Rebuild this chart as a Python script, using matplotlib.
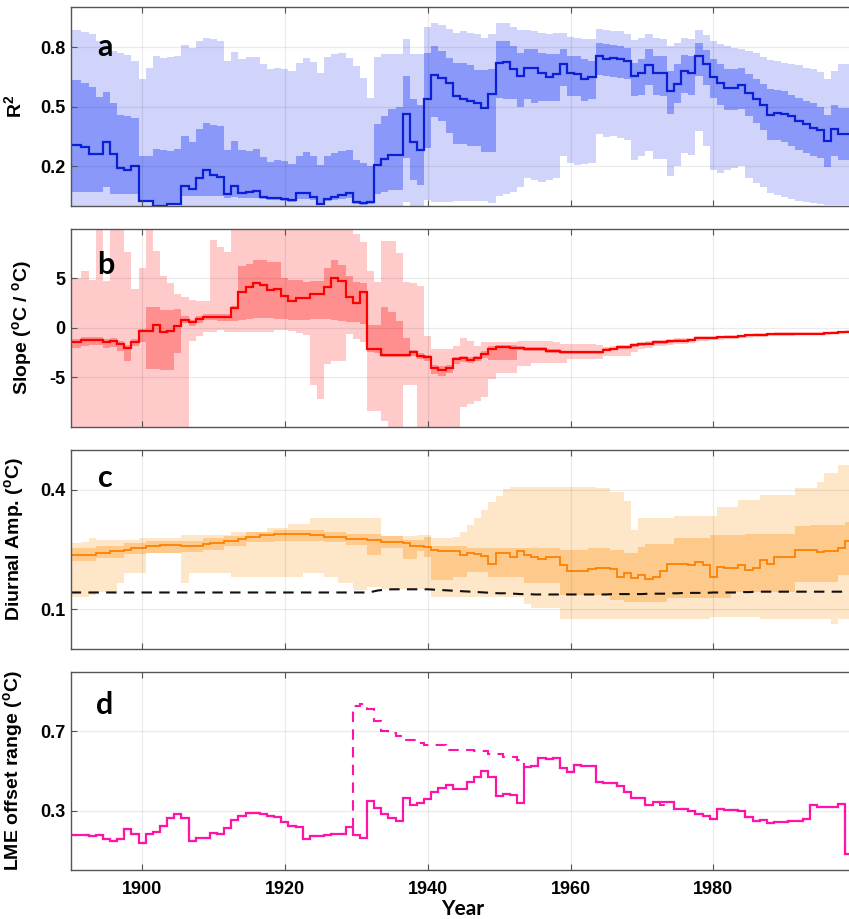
import numpy as np
import matplotlib
matplotlib.use('Agg')
import matplotlib.pyplot as plt

years = np.arange(1890, 2000)

# ---------------- panel a : R^2 ----------------
a_med = [0.308, 0.308, 0.295, 0.26, 0.26, 0.32, 0.26, 0.19, 0.18, 0.20,
         0.027, 0.027, 0.0, 0.0, 0.01, 0.01, 0.10, 0.085, 0.14, 0.18,
         0.157, 0.145, 0.06, 0.10, 0.064, 0.07, 0.074, 0.047, 0.042, 0.042,
         0.035, 0.03, 0.064, 0.064, 0.047, 0.01, 0.035, 0.047, 0.054, 0.067,
         0.022, 0.013, 0.02, 0.207, 0.236, 0.258, 0.258, 0.465, 0.32, 0.283,
         0.536, 0.66, 0.645, 0.62, 0.553, 0.536, 0.53, 0.516, 0.494, 0.565,
         0.72, 0.725, 0.69, 0.654, 0.696, 0.693, 0.667, 0.65, 0.662, 0.713,
         0.667, 0.662, 0.637, 0.65, 0.755, 0.738, 0.746, 0.741, 0.73, 0.654,
         0.667, 0.711, 0.667, 0.667, 0.578, 0.612, 0.68, 0.67, 0.755, 0.713,
         0.65, 0.62, 0.593, 0.595, 0.607, 0.57, 0.54, 0.51, 0.458, 0.468,
         0.465, 0.452, 0.43, 0.415, 0.393, 0.38, 0.325, 0.388, 0.364, 0.364]
a_in_hi = [0.632, 0.632, 0.62, 0.60, 0.55, 0.573, 0.516, 0.46, 0.452, 0.443,
           0.25, 0.25, 0.286, 0.283, 0.275, 0.286, 0.35, 0.32, 0.388, 0.42,
           0.41, 0.404, 0.283, 0.325, 0.283, 0.275, 0.286, 0.246, 0.22, 0.233,
           0.224, 0.212, 0.25, 0.27, 0.25, 0.207, 0.25, 0.266, 0.275, 0.28,
           0.233, 0.216, 0.2, 0.415, 0.452, 0.49, 0.5, 0.654, 0.536, 0.506,
           0.77, 0.805, 0.78, 0.746, 0.72, 0.72, 0.708, 0.684, 0.684, 0.688,
           0.83, 0.83, 0.805, 0.77, 0.789, 0.789, 0.77, 0.763, 0.763, 0.789,
           0.755, 0.755, 0.738, 0.73, 0.82, 0.814, 0.81, 0.805, 0.797, 0.72,
           0.741, 0.789, 0.755, 0.755, 0.68, 0.713, 0.758, 0.755, 0.82, 0.785,
           0.741, 0.713, 0.69, 0.688, 0.696, 0.662, 0.637, 0.612, 0.59, 0.586,
           0.578, 0.561, 0.544, 0.527, 0.516, 0.5, 0.46, 0.51, 0.494, 0.494]
a_in_lo = [0.068, 0.068, 0.068, 0.068, 0.068, 0.094, 0.062, 0.062, 0.062, 0.062,
           0.025, 0.025, 0.0, 0.0, 0.005, 0.005, 0.05, 0.05, 0.05, 0.052,
           0.05, 0.05, 0.04, 0.045, 0.04, 0.04, 0.04, 0.035, 0.03, 0.03,
           0.025, 0.02, 0.035, 0.035, 0.03, 0.005, 0.025, 0.03, 0.035, 0.04,
           0.01, 0.005, 0.01, 0.06, 0.07, 0.08, 0.08, 0.24, 0.13, 0.105,
           0.29, 0.45, 0.426, 0.367, 0.313, 0.313, 0.30, 0.30, 0.27, 0.27,
           0.544, 0.54, 0.536, 0.50, 0.536, 0.52, 0.526, 0.527, 0.527, 0.603,
           0.553, 0.553, 0.53, 0.536, 0.657, 0.654, 0.649, 0.645, 0.637, 0.553,
           0.561, 0.607, 0.561, 0.553, 0.465, 0.516, 0.57, 0.561, 0.654, 0.607,
           0.544, 0.51, 0.485, 0.485, 0.489, 0.452, 0.418, 0.384, 0.334, 0.334,
           0.32, 0.303, 0.283, 0.266, 0.253, 0.241, 0.195, 0.25, 0.233, 0.233]
a_out_hi = [0.886, 0.886, 0.876, 0.864, 0.83, 0.822, 0.78, 0.772, 0.758, 0.73,
            0.637, 0.696, 0.755, 0.746, 0.75, 0.755, 0.809, 0.794, 0.83, 0.848,
            0.84, 0.83, 0.73, 0.775, 0.738, 0.75, 0.75, 0.713, 0.688, 0.696,
            0.69, 0.68, 0.72, 0.746, 0.725, 0.667, 0.75, 0.763, 0.768, 0.746,
            0.704, 0.645, 0.544, 0.75, 0.763, 0.763, 0.763, 0.84, 0.763, 0.763,
            0.90, 0.92, 0.91, 0.89, 0.873, 0.88, 0.873, 0.864, 0.848, 0.864,
            0.923, 0.92, 0.903, 0.886, 0.886, 0.88, 0.873, 0.864, 0.87, 0.873,
            0.853, 0.848, 0.84, 0.84, 0.89, 0.886, 0.88, 0.88, 0.864, 0.836,
            0.843, 0.864, 0.843, 0.84, 0.805, 0.822, 0.843, 0.84, 0.886, 0.86,
            0.83, 0.814, 0.805, 0.797, 0.792, 0.78, 0.768, 0.75, 0.735, 0.73,
            0.72, 0.713, 0.708, 0.696, 0.688, 0.674, 0.637, 0.68, 0.713, 0.713]
a_out_lo = [-0.05] * 47 + [0.02, -0.05, -0.05] + [
            0.03, 0.02, 0.02, 0.02, 0.025, 0.025, 0.025, 0.025, 0.025, 0.013,
            0.05, 0.06, 0.072, 0.094, 0.14, 0.13, 0.123, 0.13, 0.14, 0.253,
            0.216, 0.207, 0.21, 0.216, 0.36, 0.347, 0.35, 0.342, 0.334, 0.233,
            0.25, 0.275, 0.236, 0.236, 0.152, 0.2, 0.266, 0.258, 0.376, 0.3,
            0.182, 0.168, 0.182, 0.19, 0.2, 0.14, 0.115, 0.098, 0.067, 0.056,
            0.044, 0.034, 0.027, 0.022, 0.013, 0.01, 0.007, 0.007, 0.007, 0.007]

# ---------------- panel b : slope ----------------
b_med = [-1.4, -1.4, -1.2, -1.2, -1.2, -1.37, -1.3, -1.6, -2.0, -1.44,
         -0.27, -0.27, 0.3, -0.44, -0.27, 0.24, 0.84, 0.57, 0.9, 1.15,
         1.15, 1.1, 1.1, 2.0, 3.6, 4.1, 4.56, 4.3, 3.8, 3.9,
         3.2, 2.77, 3.0, 3.0, 3.45, 3.45, 4.1, 5.1, 4.7, 3.1,
         2.5, 3.6, -2.1, -2.1, -2.7, -2.7, -2.7, -2.7, -2.47, -2.8,
         -2.97, -4.05, -4.2, -4.0, -3.14, -3.07, -3.24, -3.07, -2.6, -2.1,
         -1.95, -1.95, -1.99, -2.05, -2.12, -2.12, -2.12, -2.3, -2.3, -2.47,
         -2.47, -2.47, -2.47, -2.47, -2.45, -2.2, -2.12, -1.95, -1.95, -1.75,
         -1.65, -1.6, -1.45, -1.44, -1.35, -1.27, -1.27, -1.2, -1.05, -1.03,
         -1.0, -0.95, -0.92, -0.9, -0.85, -0.75, -0.7, -0.68, -0.65, -0.62,
         -0.6, -0.6, -0.58, -0.58, -0.58, -0.56, -0.55, -0.5, -0.45, -0.41]
b_in_hi = [-1.1, -1.1, -0.9, -0.9, -0.9, -1.1, -1.0, -1.3, -1.7, -1.1,
           -0.1, 2.1, 2.1, 1.86, 1.86, 1.9, 1.2, 0.85, 1.2, 1.45,
           1.45, 1.4, 1.4, 2.26, 6.3, 6.5, 6.9, 6.9, 6.65, 6.65,
           5.1, 4.8, 4.8, 4.6, 4.7, 4.7, 6.05, 6.9, 6.4, 5.3,
           4.6, 4.56, 0.3, 0.3, 2.1, 1.6, 0.74, -1.0, -2.2, -2.5,
           -2.7, -3.7, -3.8, -3.7, -2.9, -2.8, -2.9, -2.8, -2.3, -1.8,
           -1.7, -1.7, -1.75, -1.85, -1.95, -1.95, -1.95, -2.1, -2.1, -2.3,
           -2.3, -2.3, -2.3, -2.3, -2.28, -2.05, -1.97, -1.8, -1.8, -1.6,
           -1.5, -1.45, -1.3, -1.3, -1.22, -1.15, -1.15, -1.08, -0.95, -0.93,
           -0.9, -0.86, -0.83, -0.81, -0.76, -0.66, -0.61, -0.59, -0.56, -0.53,
           -0.51, -0.51, -0.49, -0.49, -0.49, -0.47, -0.46, -0.41, -0.36, -0.32]
b_in_lo = [-2.0, -2.0, -1.8, -1.7, -1.7, -2.0, -1.9, -2.3, -3.3, -1.8,
           -1.45, -4.1, -4.1, -4.2, -4.2, -2.5, 0.5, 0.2, 0.55, 0.8,
           0.8, 0.75, 0.7, 0.74, 0.84, 0.9, 1.0, 1.0, 0.96, 0.9,
           0.9, 0.8, 0.8, 0.8, 0.9, 0.9, 0.9, 0.84, 0.74, 0.6,
           0.57, 0.4, -2.4, -2.5, -2.9, -2.9, -2.9, -2.9, -2.8, -3.1,
           -3.3, -4.6, -4.8, -4.5, -3.6, -3.4, -3.5, -3.3, -3.0, -3.2,
           -3.2, -3.2, -3.2, -2.25, -2.3, -2.3, -2.3, -2.5, -2.5, -2.65,
           -2.65, -2.65, -2.65, -2.65, -2.62, -2.35, -2.27, -2.1, -2.1, -1.9,
           -1.8, -1.75, -1.6, -1.58, -1.48, -1.39, -1.39, -1.32, -1.15, -1.13,
           -1.1, -1.04, -1.01, -0.99, -0.94, -0.84, -0.79, -0.77, -0.74, -0.71,
           -0.69, -0.69, -0.67, -0.67, -0.67, -0.65, -0.64, -0.59, -0.54, -0.5]
b_out_hi = [5.0, 5.0, 5.8, 4.8, 10.5, 4.7, 10.5, 10.5, 7.7, 3.95,
            6.1, 10.5, 7.8, 5.3, 4.5, 3.45, 3.1, 2.8, 2.7, 2.7,
            8.9, 8.2, 7.7, 10.5, 10.5, 10.5, 10.5, 10.5, 10.5, 10.5,
            10.5, 10.5, 10.5, 10.5, 10.5, 10.5, 10.5, 10.5, 10.5, 10.5,
            9.5, 8.7, 5.8, 4.6, 8.75, 8.75, 7.6, 4.6, 4.5, 4.2,
            -0.8, -2.1, -2.1, -2.1, -1.8, -1.05, -1.3, -1.8, -1.45, -1.44,
            -1.44, -1.44, -1.44, -1.3, -1.27, -1.27, -1.27, -1.3, -1.45, -1.6,
            -1.6, -1.6, -1.6, -1.6, -1.75, -1.9, -1.85, -1.7, -1.7, -1.5,
            -1.4, -1.35, -1.2, -1.2, -1.12, -1.05, -1.05, -0.98, -0.85, -0.83,
            -0.8, -0.76, -0.73, -0.71, -0.66, -0.56, -0.51, -0.49, -0.46, -0.43,
            -0.41, -0.41, -0.39, -0.39, -0.39, -0.37, -0.36, -0.31, -0.26, -0.22]
b_out_lo = [-10.5] * 17 + [-1.28, -0.78, -0.44,
            -0.44, -0.17, -0.37, -0.4, -0.4, -0.4, -0.4, -0.4, -0.4, -0.2,
            -0.2, -0.3, -0.5, -0.7, -5.8, -7.2, -3.65, -3.3, -3.3, -0.6,
            -1.1, -1.45, -8.4, -8.4, -9.4, -10.5, -10.5, -5.8, -5.8, -10.5,
            -10.5, -10.5, -10.5, -10.5, -10.5, -8.0, -7.7, -7.4, -7.0, -5.2,
            -4.5, -4.5, -4.5, -3.8, -3.8, -3.5, -3.5, -3.5, -3.5, -3.5,
            -3.15, -3.15, -3.15, -3.15, -3.15, -2.8, -2.8, -2.8, -2.8, -2.4,
            -2.1, -2.0, -1.85, -1.8, -1.7, -1.6, -1.6, -1.5, -1.35, -1.3,
            -1.25, -1.2, -1.15, -1.12, -1.06, -0.96, -0.9, -0.87, -0.84, -0.8,
            -0.78, -0.78, -0.75, -0.75, -0.75, -0.72, -0.7, -0.65, -0.6, -0.55]

# ---------------- panel c : diurnal amplitude ----------------
c_med = [0.236, 0.236, 0.236, 0.236, 0.242, 0.242, 0.246, 0.246, 0.25, 0.255,
         0.255, 0.259, 0.259, 0.261, 0.261, 0.261, 0.259, 0.259, 0.259, 0.263,
         0.267, 0.267, 0.272, 0.272, 0.277, 0.281, 0.281, 0.287, 0.287, 0.288,
         0.29, 0.29, 0.29, 0.29, 0.287, 0.287, 0.282, 0.282, 0.282, 0.276,
         0.276, 0.276, 0.274, 0.274, 0.27, 0.27, 0.27, 0.266, 0.26, 0.26,
         0.257, 0.249, 0.245, 0.245, 0.247, 0.236, 0.242, 0.239, 0.234, 0.213,
         0.24, 0.24, 0.232, 0.245, 0.236, 0.23, 0.225, 0.23, 0.23, 0.211,
         0.196, 0.196, 0.196, 0.2, 0.204, 0.204, 0.2, 0.18, 0.19, 0.178,
         0.187, 0.177, 0.18, 0.196, 0.213, 0.213, 0.213, 0.21, 0.218, 0.21,
         0.18, 0.207, 0.204, 0.204, 0.21, 0.198, 0.204, 0.224, 0.213, 0.23,
         0.23, 0.23, 0.25, 0.25, 0.25, 0.243, 0.246, 0.246, 0.253, 0.271]
c_in_hi = [0.253, 0.253, 0.253, 0.253, 0.258, 0.258, 0.258, 0.258, 0.266, 0.266,
           0.266, 0.272, 0.272, 0.272, 0.272, 0.272, 0.272, 0.272, 0.272, 0.278,
           0.278, 0.278, 0.285, 0.285, 0.285, 0.295, 0.295, 0.295, 0.295, 0.30,
           0.30, 0.30, 0.30, 0.30, 0.30, 0.30, 0.295, 0.295, 0.295, 0.29,
           0.29, 0.29, 0.29, 0.29, 0.283, 0.283, 0.283, 0.275, 0.275, 0.275,
           0.282, 0.259, 0.259, 0.259, 0.259, 0.259, 0.255, 0.255, 0.255, 0.255,
           0.255, 0.255, 0.255, 0.255, 0.255, 0.255, 0.255, 0.255, 0.255, 0.249,
           0.249, 0.249, 0.249, 0.253, 0.253, 0.253, 0.25, 0.25, 0.242, 0.242,
           0.257, 0.263, 0.263, 0.263, 0.263, 0.278, 0.278, 0.278, 0.278, 0.278,
           0.287, 0.287, 0.287, 0.287, 0.287, 0.29, 0.29, 0.29, 0.29, 0.29,
           0.29, 0.29, 0.308, 0.308, 0.312, 0.312, 0.312, 0.312, 0.312, 0.32]
c_in_lo = [0.222, 0.222, 0.222, 0.222, 0.228, 0.228, 0.228, 0.228, 0.238, 0.238,
           0.238, 0.242, 0.242, 0.242, 0.242, 0.242, 0.243, 0.243, 0.243, 0.25,
           0.25, 0.25, 0.258, 0.258, 0.258, 0.268, 0.268, 0.268, 0.268, 0.272,
           0.272, 0.272, 0.272, 0.272, 0.272, 0.272, 0.268, 0.268, 0.268, 0.262,
           0.262, 0.262, 0.236, 0.236, 0.255, 0.255, 0.255, 0.226, 0.226, 0.245,
           0.232, 0.173, 0.173, 0.173, 0.182, 0.182, 0.194, 0.194, 0.194, 0.182,
           0.182, 0.182, 0.182, 0.182, 0.165, 0.165, 0.165, 0.165, 0.165, 0.135,
           0.135, 0.135, 0.135, 0.135, 0.135, 0.135, 0.123, 0.123, 0.118, 0.118,
           0.118, 0.118, 0.118, 0.118, 0.127, 0.127, 0.127, 0.127, 0.127, 0.127,
           0.127, 0.127, 0.127, 0.144, 0.144, 0.144, 0.144, 0.144, 0.144, 0.144,
           0.144, 0.144, 0.169, 0.169, 0.169, 0.169, 0.169, 0.169, 0.186, 0.186]
c_out_hi = [0.266, 0.266, 0.27, 0.278, 0.275, 0.275, 0.275, 0.275, 0.275, 0.275,
            0.28, 0.28, 0.28, 0.28, 0.28, 0.28, 0.287, 0.287, 0.287, 0.287,
            0.287, 0.287, 0.287, 0.295, 0.295, 0.295, 0.295, 0.295, 0.303, 0.303,
            0.303, 0.315, 0.315, 0.315, 0.328, 0.328, 0.328, 0.328, 0.328, 0.328,
            0.328, 0.328, 0.328, 0.328, 0.285, 0.285, 0.285, 0.285, 0.285, 0.287,
            0.287, 0.278, 0.278, 0.278, 0.282, 0.295, 0.312, 0.329, 0.35, 0.37,
            0.385, 0.402, 0.408, 0.408, 0.408, 0.408, 0.408, 0.408, 0.408, 0.408,
            0.408, 0.408, 0.406, 0.406, 0.404, 0.404, 0.394, 0.394, 0.372, 0.30,
            0.329, 0.329, 0.329, 0.329, 0.329, 0.333, 0.333, 0.333, 0.333, 0.333,
            0.333, 0.358, 0.358, 0.358, 0.375, 0.375, 0.375, 0.387, 0.387, 0.387,
            0.387, 0.387, 0.404, 0.404, 0.404, 0.42, 0.442, 0.442, 0.463, 0.463]
c_out_lo = [0.131, 0.131, 0.131, 0.135, 0.144, 0.144, 0.144, 0.165, 0.19, 0.19,
            0.19, 0.24, 0.24, 0.24, 0.24, 0.24, 0.165, 0.19, 0.19, 0.19,
            0.192, 0.192, 0.192, 0.18, 0.18, 0.18, 0.18, 0.18, 0.18, 0.18,
            0.182, 0.182, 0.182, 0.19, 0.19, 0.19, 0.18, 0.18, 0.165, 0.165,
            0.148, 0.148, 0.156, 0.156, 0.152, 0.152, 0.152, 0.152, 0.152, 0.152,
            0.152, 0.131, 0.131, 0.131, 0.131, 0.131, 0.131, 0.131, 0.131, 0.131,
            0.131, 0.131, 0.131, 0.131, 0.114, 0.102, 0.102, 0.102, 0.102, 0.076,
            0.076, 0.076, 0.076, 0.076, 0.076, 0.076, 0.076, 0.076, 0.076, 0.076,
            0.076, 0.076, 0.076, 0.076, 0.076, 0.076, 0.076, 0.076, 0.076, 0.076,
            0.08, 0.08, 0.08, 0.08, 0.08, 0.08, 0.08, 0.076, 0.076, 0.076,
            0.076, 0.076, 0.076, 0.076, 0.076, 0.076, 0.076, 0.064, 0.076, 0.076]
c_dash = [0.142] * 42 + [0.143, 0.147, 0.149, 0.15, 0.15, 0.15, 0.15, 0.15,
          0.15, 0.149, 0.148, 0.147, 0.146, 0.145, 0.144, 0.143, 0.142, 0.141,
          0.14, 0.14, 0.139, 0.138, 0.138, 0.137, 0.137, 0.137, 0.137, 0.137,
          0.137, 0.137, 0.137, 0.137, 0.137, 0.137, 0.138, 0.138, 0.138, 0.138,
          0.138, 0.139, 0.139, 0.139, 0.14, 0.14, 0.141, 0.141, 0.141, 0.141,
          0.142, 0.142, 0.142, 0.142, 0.143, 0.143, 0.144, 0.144, 0.144, 0.144,
          0.144, 0.144, 0.144, 0.144, 0.144, 0.144, 0.144, 0.144, 0.144, 0.144]

# ---------------- panel d : LME offset range ----------------
d_solid = [0.177, 0.177, 0.177, 0.172, 0.177, 0.155, 0.147, 0.155, 0.206, 0.18,
           0.135, 0.18, 0.194, 0.222, 0.262, 0.28, 0.262, 0.147, 0.16, 0.16,
           0.189, 0.18, 0.211, 0.252, 0.274, 0.288, 0.288, 0.283, 0.271, 0.266,
           0.24, 0.223, 0.215, 0.155, 0.172, 0.172, 0.177, 0.184, 0.184, 0.215,
           0.177, 0.16, 0.348, 0.314, 0.28, 0.262, 0.249, 0.363, 0.326, 0.337,
           0.36, 0.394, 0.416, 0.428, 0.41, 0.41, 0.445, 0.47, 0.5, 0.467,
           0.371, 0.382, 0.377, 0.337, 0.521, 0.525, 0.564, 0.56, 0.564, 0.513,
           0.496, 0.53, 0.525, 0.525, 0.445, 0.44, 0.44, 0.423, 0.394, 0.365,
           0.365, 0.326, 0.343, 0.343, 0.343, 0.309, 0.309, 0.3, 0.28, 0.27,
           0.257, 0.309, 0.305, 0.305, 0.3, 0.266, 0.246, 0.252, 0.235, 0.24,
           0.24, 0.249, 0.249, 0.257, 0.326, 0.317, 0.317, 0.317, 0.331, 0.08]
d_dash = [0.177, 0.177, 0.177, 0.172, 0.177, 0.155, 0.147, 0.155, 0.206, 0.18,
          0.135, 0.18, 0.194, 0.222, 0.262, 0.28, 0.262, 0.147, 0.16, 0.16,
          0.189, 0.18, 0.211, 0.252, 0.274, 0.288, 0.288, 0.283, 0.271, 0.266,
          0.24, 0.223, 0.215, 0.155, 0.172, 0.172, 0.177, 0.184, 0.184, 0.215,
          0.828, 0.836, 0.81, 0.75, 0.70, 0.69, 0.674, 0.657, 0.657, 0.64,
          0.632, 0.632, 0.632, 0.605, 0.605, 0.603, 0.603, 0.6, 0.598, 0.584,
          0.584, 0.57, 0.57, 0.555, 0.521, 0.525, 0.564, 0.56, 0.564, 0.513,
          0.496, 0.53, 0.525, 0.525, 0.445, 0.44, 0.44, 0.423, 0.394, 0.365,
          0.365, 0.326, 0.343, 0.33, 0.343, 0.309, 0.309, 0.3, 0.28, 0.27,
          0.257, 0.309, 0.305, 0.305, 0.3, 0.266, 0.246, 0.252, 0.235, 0.24,
          0.24, 0.249, 0.249, 0.257, 0.326, 0.317, 0.317, 0.317, 0.331, 0.08]

ytick_a = [0.2, 0.5, 0.8]
ytick_b = [-5, 0, 5]
ytick_c = [0.1, 0.4]
ytick_d = [0.3, 0.7]
xticks = [1900, 1920, 1940, 1960, 1980]

plt.rcParams.update({
    'font.family': ['Liberation Sans', 'DejaVu Sans'],
    'font.weight': 'bold',
    'mathtext.fontset': 'custom',
    'mathtext.rm': 'Liberation Sans:bold',
    'mathtext.bf': 'Liberation Sans:bold',
    'mathtext.it': 'Liberation Sans:bold',
    'mathtext.default': 'bf',
})

W, H = 849, 919
fig = plt.figure(figsize=(W / 100, H / 100), dpi=100)
edges = np.append(years - 0.5, years[-1] + 0.5)
YL = 14

def make_ax(top, bottom):
    left = 70.7
    ax = fig.add_axes([left / W, 1 - bottom / H, (W - left) / W, (bottom - top) / H])
    ax.set_xlim(1890, 1999)
    ax.set_xticks(xticks)
    ax.grid(True, color='black', alpha=0.08, lw=0.9)
    ax.set_axisbelow(False)
    for s in ['left', 'bottom', 'top']:
        ax.spines[s].set_color('#555555')
        ax.spines[s].set_linewidth(1.0)
    ax.spines['right'].set_visible(False)
    ax.tick_params(direction='in', length=4, width=0.8, color='#555555',
                   top=True, labelsize=13, pad=3.5)
    ax.tick_params(axis='x', pad=8)
    return ax

def letter(ax, txt, x, y):
    ax.text(x, y, txt, transform=ax.transAxes, fontsize=22, fontweight='bold',
            family=['Lato', 'DejaVu Sans'], ha='center', va='center', zorder=10)

# panel a
ax = make_ax(7.3, 206)
ax.stairs(a_out_hi, edges, baseline=a_out_lo, fill=True, color='#d0d4fb', lw=0)
ax.stairs(a_in_hi, edges, baseline=a_in_lo, fill=True, color='#8a98fa', lw=0)
ax.stairs(a_med, edges, baseline=None, color='#0b1fd4', lw=1.6)
ax.set_ylim(0, 1)
ax.set_yticks(ytick_a)
ax.set_yticklabels(['0.2', '0.5', '0.8'])
ax.set_xticklabels([])
ax.set_ylabel('R$^2$', fontsize=YL, fontweight='bold')
ax.yaxis.set_label_coords(-0.059, 0.5)
letter(ax, 'a', 0.044, 0.80)

# panel b
ax = make_ax(229, 427)
ax.stairs(b_out_hi, edges, baseline=b_out_lo, fill=True, color='#ffcaca', lw=0)
ax.stairs(b_in_hi, edges, baseline=b_in_lo, fill=True, color='#ff8f8f', lw=0)
ax.stairs(b_med, edges, baseline=None, color='#ff0000', lw=1.6)
ax.set_ylim(-10, 10)
ax.set_yticks(ytick_b)
ax.set_yticklabels(['-5', '0', '5'])
ax.set_xticklabels([])
ax.set_ylabel('Slope ($^o$C / $^o$C)', fontsize=YL, fontweight='bold')
ax.yaxis.set_label_coords(-0.047, 0.5)
letter(ax, 'b', 0.045, 0.82)

# panel c
ax = make_ax(450, 649)
ax.stairs(c_out_hi, edges, baseline=c_out_lo, fill=True, color='#fee6c8', lw=0)
ax.stairs(c_in_hi, edges, baseline=c_in_lo, fill=True, color='#fdca8c', lw=0)
ax.stairs(c_med, edges, baseline=None, color='#ff8000', lw=1.3)
ax.plot(years, c_dash, color='#111111', lw=1.5, ls=(0, (5, 3.5)))
ax.set_ylim(0, 0.5)
ax.set_yticks(ytick_c)
ax.set_yticklabels(['0.1', '0.4'])
ax.set_xticklabels([])
ax.set_ylabel('Diurnal Amp. ($^o$C)', fontsize=YL, fontweight='bold')
ax.yaxis.set_label_coords(-0.057, 0.55)
letter(ax, 'c', 0.044, 0.86)

# panel d
ax = make_ax(671.7, 870)
ax.stairs(d_dash, edges, baseline=None, color='#ff14a8', lw=1.5, ls=(0, (5, 3.5)))
ax.stairs(d_solid, edges, baseline=None, color='#ff14a8', lw=1.6)
ax.set_ylim(0, 1)
ax.set_yticks(ytick_d)
ax.set_yticklabels(['0.3', '0.7'])
ax.set_xticklabels([str(x) for x in xticks])
ax.set_ylabel('LME offset range ($^o$C)', fontsize=YL, fontweight='bold')
ax.yaxis.set_label_coords(-0.059, 0.5)
letter(ax, 'd', 0.044, 0.83)

fig.text(463 / W, 1 - 909 / H, 'Year', fontsize=15, fontweight='bold',
         family=['Lato', 'DejaVu Sans'], ha='center', va='center')

fig.savefig('out.png', dpi=100)
